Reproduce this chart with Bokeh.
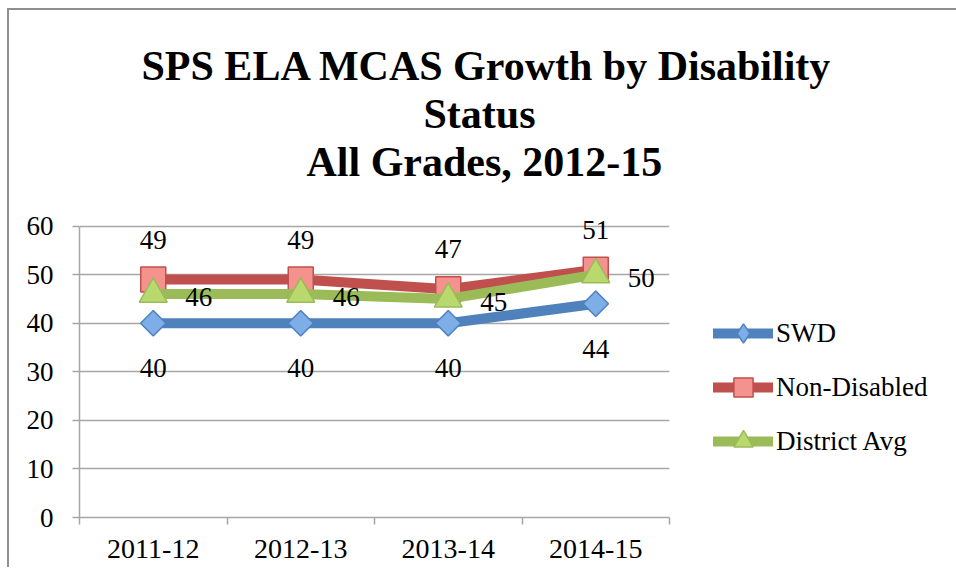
import math
from bokeh.plotting import figure
from bokeh.models import ColumnDataSource, FixedTicker, Legend, LegendItem, Range1d, Title
from bokeh.core.properties import value
from bokeh.embed import file_html
from bokeh.resources import INLINE

# ---- data ----
years = ["2011-12", "2012-13", "2013-14", "2014-15"]
swd = [40, 40, 40, 44]
non_disabled = [49, 49, 47, 51]
district_avg = [46, 46, 45, 50]
y_ticks = [0, 10, 20, 30, 40, 50, 60]
title_lines = ["SPS ELA MCAS Growth by Disability", "Status", "All Grades, 2012-15"]
title_offsets = [62, 344, 227]

FONT = "Liberation Serif"
GRID = "#a6a6a6"

xs = [i + 0.5 for i in range(len(years))]

p = figure(frame_width=590, frame_height=306, output_backend="svg", toolbar_location=None,
           x_range=Range1d(0, len(years)), y_range=Range1d(y_ticks[0], y_ticks[-1] + 3),
           min_border_left=70, min_border_right=260, min_border_top=201, min_border_bottom=50)
p.margin = (8, 0, 0, 7)
p.styles = {"border-left": "2px solid #8e8e8e", "border-top": "2px solid #8e8e8e"}
p.outline_line_color = None
p.background_fill_color = "white"
p.border_fill_color = "white"
p.title.visible = False

# spacer between the frame and the title block
p.add_layout(Title(text=" ", text_font_size="1px", standoff=24), "above")
# title lines, added from the frame outward
for i in reversed(range(len(title_lines))):
    p.add_layout(Title(text=title_lines[i], align="left", offset=title_offsets[i],
                       standoff=0, text_font=FONT, text_font_style="bold",
                       text_font_size="42px", text_color="black"), "above")

# axes
xa = p.xaxis[0]
xa.ticker = FixedTicker(ticks=xs, minor_ticks=list(range(len(years) + 1)))
xa.major_label_overrides = {x: y for x, y in zip(xs, years)}
xa.major_tick_out = 0
xa.major_tick_in = 0
xa.minor_tick_out = 7
xa.minor_tick_in = 0
xa.axis_line_color = GRID
xa.axis_line_width = 1.5
xa.minor_tick_line_color = GRID
xa.minor_tick_line_width = 1.5
xa.major_label_text_font = FONT
xa.major_label_text_font_size = "28px"
xa.major_label_text_color = "black"
xa.major_label_standoff = 15

ya = p.yaxis[0]
ya.ticker = FixedTicker(ticks=y_ticks)
ya.bounds = (y_ticks[0], y_ticks[-1])
ya.major_tick_out = 7
ya.major_tick_in = 0
ya.minor_tick_line_color = None
ya.axis_line_color = GRID
ya.axis_line_width = 1.5
ya.major_tick_line_color = GRID
ya.major_tick_line_width = 1.5
ya.major_label_text_font = FONT
ya.major_label_text_font_size = "27px"
ya.major_label_text_color = "black"
ya.major_label_standoff = 19

p.xgrid.grid_line_color = None
p.ygrid.ticker = FixedTicker(ticks=y_ticks)
p.ygrid.grid_line_color = GRID
p.ygrid.grid_line_width = 1.5

series = [
    ("SWD", swd, "#4f81bd", "#7eaee8", "square", math.pi / 4, 18, "below"),
    ("Non-Disabled", non_disabled, "#c0504d", "#f4928e", "square", 0, 25, "above"),
    ("District Avg", district_avg, "#9bbb59", "#b9d86e", "triangle", 0, 28, "right"),
]

items = []
for name, vals, lc, fc, marker, ang, size, pos in series:
    src = ColumnDataSource(dict(x=xs, y=vals, lbl=[str(v) for v in vals]))
    r1 = p.line("x", "y", source=src, line_color=lc, line_width=10,
                line_join="round", line_cap="round")
    if ang:
        # diamond drawn underneath the rotated square; used for the legend glyph
        r_leg = p.scatter("x", "y", source=src, marker="diamond", size=size,
                          fill_color=fc, line_color=lc, line_width=1.5)
        p.scatter("x", "y", source=src, marker=marker, angle=ang, size=size,
                  fill_color=fc, line_color=lc, line_width=1.5)
    else:
        r_leg = p.scatter("x", "y", source=src, marker=marker, size=size,
                          fill_color=fc, line_color=lc, line_width=1.5)
    items.append(LegendItem(label=name, renderers=[r1, r_leg]))
    if pos == "below":
        kw = dict(text_align="center", x_offset=0, y_offset=45)
    elif pos == "above":
        kw = dict(text_align="center", x_offset=0, y_offset=-40)
    else:
        kw = dict(text_align="left", x_offset=32, y_offset=3)
    p.text("x", "y", text="lbl", source=src, text_font=value(FONT),
           text_font_size="27px", text_color="black", text_baseline="middle", **kw)

legend = Legend(items=items, location=(44, 52), margin=0, padding=0, spacing=6,
                glyph_width=60, glyph_height=48, label_standoff=3,
                label_text_font=FONT, label_text_font_size="27px",
                label_text_color="black", label_text_baseline="middle",
                border_line_color=None, background_fill_alpha=0)
p.add_layout(legend, "right")

open("out.html", "w").write(file_html(p, INLINE))
